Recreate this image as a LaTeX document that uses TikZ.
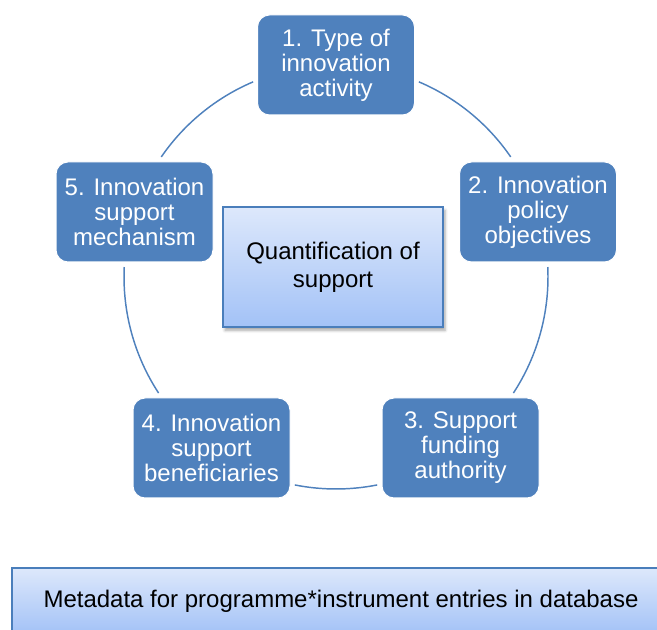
\documentclass[tikz,border=0pt]{standalone}
\usepackage{fontspec}
\setmainfont{Liberation Sans}
\usetikzlibrary{shadows.blur}

\definecolor{stageblue}{RGB}{79,129,189}
\definecolor{paneltop}{RGB}{221,232,251}
\definecolor{panelbottom}{RGB}{163,194,247}
\definecolor{paneledge}{RGB}{74,126,187}

\tikzset{
  stage/.style={rectangle, rounded corners=9pt, fill=stageblue, draw=white, line width=0.75pt,
    text=white, minimum width=117.75pt, minimum height=75pt, inner sep=0pt, align=center,
    font=\fontsize{18}{18.75}\selectfont},
  panel/.style={rectangle, top color=paneltop, bottom color=panelbottom, draw=paneledge,
    line width=1.1pt, align=center, font=\fontsize{18}{21}\selectfont},
  ring/.style={draw=stageblue, line width=1.1pt},
}

\begin{document}
\begin{tikzpicture}[x=0.75pt,y=0.75pt]
        \useasboundingbox (0,0) rectangle (657,630);
        \coordinate (hub) at (336,353);

        % ring pieces between the stages
        \foreach \from/\to in {67/34.5, 2.7/-33.2, -78.8/-101.2, -146.8/-182.7, 145.5/113}
            \draw[ring] ([shift={(\from:212)}]hub) arc[start angle=\from, end angle=\to, radius=212];

        \node[stage] (activity) at (336,565) {1. Type of\\innovation\\activity};
        \node[stage] (objectives) at (538,418) {2. Innovation\\policy\\objectives};
        \node[stage] (authority) at (460.5,182) {3. Support\\funding\\authority};
        \node[stage] (beneficiaries) at (211.5,182) {4. Innovation\\support\\beneficiaries};
        \node[stage] (mechanism) at (134.5,418) {5. Innovation\\support\\mechanism};

        \node[panel, minimum width=165pt, minimum height=90pt,
              blur shadow={shadow xshift=1.5pt, shadow yshift=-2.5pt, shadow opacity=35}] (quant) at (333,363) {Quantification of\\support};

        \node[panel, minimum width=493.5pt, minimum height=49.5pt] (meta) at (341,29) {Metadata for programme*instrument entries in database};
\end{tikzpicture}
\end{document}
